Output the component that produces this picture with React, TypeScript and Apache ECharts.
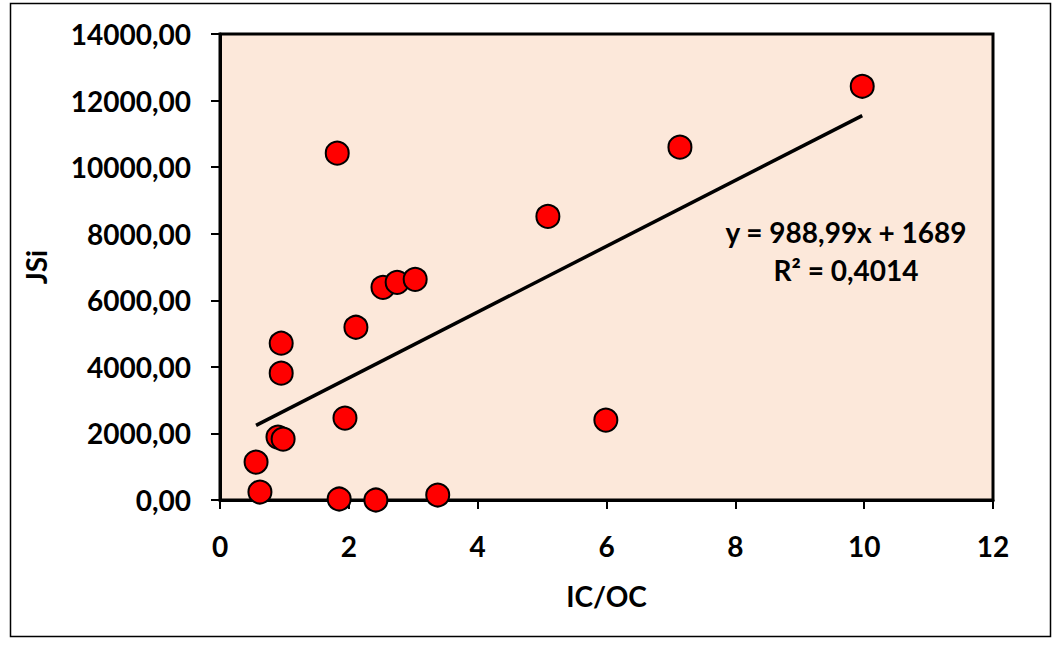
import React, { useEffect, useRef } from "react";
import * as echarts from "echarts";

// IC/OC ratio versus JSi
const icOc = [0.56, 0.62, 0.9, 0.98, 0.95, 0.95, 1.82, 1.85, 1.94, 2.11, 2.42, 2.53, 2.75, 3.03, 3.38, 5.09, 5.99, 7.14, 9.97];
const jsi = [1140, 240, 1890, 1830, 4710, 3810, 10420, 30, 2460, 5190, 0, 6390, 6540, 6630, 150, 8520, 2400, 10600, 12430];

// Linear trend: y = slope * x + intercept
const slope = 988.99;
const intercept = 1689;
const rSquared = "0,4014";

const xTicks = [0, 2, 4, 6, 8, 10, 12];
const yTicks = [0, 2000, 4000, 6000, 8000, 10000, 12000, 14000];

const FONT = "Lato, 'Open Sans', sans-serif";
const SIZE = 28;

export default function App() {
  const ref = useRef<HTMLDivElement>(null);

  useEffect(() => {
    if (!ref.current) return;
    const chart = echarts.init(ref.current, null, { renderer: "svg" });
    const xMin = Math.min(...icOc);
    const xMax = Math.max(...icOc);
    const trend = [
      [xMin, slope * xMin + intercept],
      [xMax, slope * xMax + intercept],
    ];
    const bold = { fontSize: SIZE, fontWeight: "bold", color: "#000", fontFamily: FONT };
    chart.setOption({
      animation: false,
      backgroundColor: "#ffffff",
      textStyle: { fontFamily: FONT },
      grid: {
        left: 220,
        right: 60,
        top: 34,
        bottom: 146,
        show: true,
        backgroundColor: "#fce8da",
        borderColor: "#000",
        borderWidth: 3,
      },
      xAxis: {
        type: "value",
        min: xTicks[0],
        max: xTicks[xTicks.length - 1],
        interval: 2,
        name: "IC/OC",
        nameLocation: "middle",
        nameGap: 82,
        nameTextStyle: bold,
        axisLine: { show: true, lineStyle: { color: "#000", width: 3 } },
        axisTick: { show: true, length: 9, lineStyle: { color: "#000", width: 2 } },
        axisLabel: { ...bold, margin: 32 },
        splitLine: { show: false },
      },
      yAxis: {
        type: "value",
        min: yTicks[0],
        max: yTicks[yTicks.length - 1],
        interval: 2000,
        name: "JSi",
        nameLocation: "middle",
        nameGap: 170,
        nameRotate: 90,
        nameTextStyle: bold,
        axisLine: { show: true, lineStyle: { color: "#000", width: 3 } },
        axisTick: { show: true, length: 9, lineStyle: { color: "#000", width: 2 } },
        axisLabel: {
          ...bold,
          margin: 29,
          formatter: (v: number) => v.toFixed(2).replace(".", ","),
        },
        splitLine: { show: false },
      },
      series: [
        {
          type: "line",
          data: trend,
          symbol: "none",
          lineStyle: { color: "#000", width: 3.5 },
          z: 2,
        },
        {
          type: "scatter",
          data: icOc.map((x, i) => [x, jsi[i]]),
          symbolSize: 23,
          itemStyle: { color: "#ff0000", opacity: 1, borderColor: "#000", borderWidth: 2 },
          z: 3,
        },
      ],
      graphic: [
        {
          type: "rect",
          left: 8,
          top: 1,
          shape: { width: 1040, height: 633 },
          style: { fill: "none", stroke: "#000", lineWidth: 1.5 },
          silent: true,
        },
        {
          type: "text",
          x: 846,
          y: 232,
          style: {
            text: `y = ${slope.toFixed(2).replace(".", ",")}x + ${intercept}`,
            fontSize: SIZE,
            fontWeight: "bold",
            fontFamily: FONT,
            fill: "#000",
            align: "center",
            verticalAlign: "middle",
          },
        },
        {
          type: "text",
          x: 846,
          y: 270,
          style: {
            text: `R² = ${rSquared}`,
            fontSize: SIZE,
            fontWeight: "bold",
            fontFamily: FONT,
            fill: "#000",
            align: "center",
            verticalAlign: "middle",
          },
        },
      ],
    });
    return () => chart.dispose();
  }, []);

  return <div ref={ref} style={{ width: 1053, height: 646, position: "absolute", left: 0, top: 0 }} />;
}
